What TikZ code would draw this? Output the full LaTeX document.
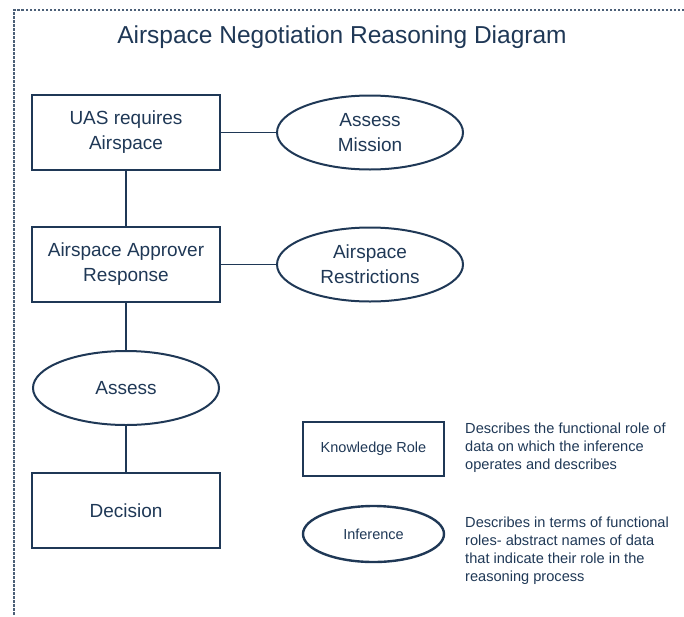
\documentclass[tikz,border=0pt]{standalone}
\usepackage{fontspec}
\setmainfont{Liberation Sans}
\usetikzlibrary{positioning, shapes.geometric}
\definecolor{navy}{RGB}{31,56,86}

\begin{document}
\begin{tikzpicture}[x=1pt, y=-1pt,
    kbox/.style={draw=navy, line width=2pt, minimum width=188pt, minimum height=75pt,
                 inner sep=0pt, align=center, text=navy,
                 font=\fontsize{19}{25}\selectfont},
    inf/.style={kbox, ellipse, minimum width=186pt, minimum height=74pt},
    lkbox/.style={kbox, line width=2.4pt, minimum width=141pt, minimum height=54pt,
                  font=\fontsize{14.5}{17}\selectfont},
    linf/.style={lkbox, ellipse, minimum height=56pt},
    desc/.style={anchor=north west, align=left, inner sep=0pt, text=navy,
                 font=\fontsize{14.6}{18}\selectfont},
    ttl/.style={anchor=base, inner sep=0pt, text=navy, font=\fontsize{24.5}{28}\selectfont},
    conn/.style={draw=navy, line width=2pt},
    hconn/.style={draw=navy, line width=1.3pt},
    frame/.style={draw=navy!80, line width=1.5pt, dash pattern=on 2.5pt off 1.5pt},
  ]
  \useasboundingbox (0,0) rectangle (684,616);

  % dotted frame, runs off the right and bottom edges
  \draw[frame] (684,10) -| (14,616);

  \node[ttl] (title) at (342,43) {Airspace Negotiation Reasoning Diagram};

  % main chain
  \node[kbox] (uas) at (126,132.5) {UAS requires\\Airspace};
  \node[inf, right=55pt of uas] (mission) {Assess\\Mission};
  \node[kbox, below=55pt of uas] (approver) {Airspace Approver\\Response};
  \node[inf, right=55pt of approver] (restrict) {Airspace\\Restrictions};
  \node[inf, below=47pt of approver] (assess) {Assess};
  \node[kbox, below=46pt of assess] (decision) {Decision};

  \draw[hconn] (uas) -- (mission);
  \draw[hconn] (approver) -- (restrict);
  \draw[conn] (uas) -- (approver);
  \draw[conn] (approver) -- (assess);
  \draw[conn] (assess) -- (decision);

  % legend
  \node[lkbox] (krole) at (373.5,449) {Knowledge Role};
  \node[linf] (infer) at (373.5,534) {Inference};
  \node[desc] (kdesc) at (465,422.5) {Describes the functional role of\\data on which the inference\\operates and describes};
  \node[desc] (idesc) at (465,516.5) {Describes in terms of functional\\roles- abstract names of data\\that indicate their role in the\\reasoning process};
\end{tikzpicture}
\end{document}
